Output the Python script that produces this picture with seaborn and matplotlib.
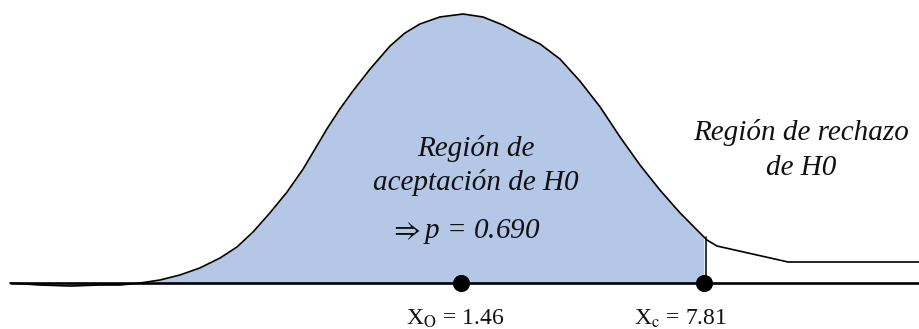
import numpy as np
import pandas as pd
import matplotlib
matplotlib.use("Agg")
import matplotlib.pyplot as plt
import seaborn as sns

# traced curve (x in statistic units, y = height in arbitrary units)
curve_x = [-10.32, -9.54, -8.75, -7.97, -7.45, -6.92, -6.40, -5.88, -5.36, -4.83,
           -4.39, -3.97, -3.53, -3.08, -2.66, -2.35, -2.04, -1.70, -1.36, -0.91,
           -0.39, 0.00, 0.39, 0.91, 1.52, 2.04, 2.56, 3.00, 3.53, 4.05,
           4.57, 5.10, 5.62, 6.14, 6.66, 7.19, 7.63, 7.89, 8.15, 10.01, 13.43]
curve_y = [0, -2, -3, -2, -2, 0, 3, 8, 15, 25,
           36, 51, 70, 91, 114, 134, 154, 174, 192, 214,
           237, 250, 259, 266, 269, 266, 258, 249, 239, 224,
           202, 176, 146, 118, 93, 70, 53, 43, 37, 21, 21]

x_obs = 1.46
x_crit = 7.81
p_value = 0.690
point_x = [x_obs, x_crit]
point_labels = ["X$_\\mathrm{O}$ = 1.46", "X$_\\mathrm{c}$ = 7.81"]

sns.set_theme(style="white")
plt.rcParams["font.family"] = ["Liberation Serif", "DejaVu Serif"]
plt.rcParams["mathtext.fontset"] = "stix"

fig = plt.figure(figsize=(9.19, 3.29), dpi=100)
ax = fig.add_axes([0, 0, 1, 1])

df = pd.DataFrame({"x": curve_x, "y": curve_y})
cx = np.array(curve_x, dtype=float)
cy = np.array(curve_y, dtype=float)
y_crit = np.interp(x_crit, cx, cy)
mask = cx < x_crit
fx = np.append(cx[mask], x_crit)
fy = np.append(cy[mask], y_crit)
ax.fill_between(fx, fy, 0, color="#B4C7E7", linewidth=0)

sns.lineplot(data=df, x="x", y="y", ax=ax, color="black", lw=1.2, sort=False, estimator=None)
ax.plot([curve_x[0], 13.6], [0, 0], color="black", lw=1.9, solid_capstyle="butt")
ax.plot([x_crit + 0.05, x_crit + 0.05], [0, y_crit], color="black", lw=1.1)

sns.scatterplot(x=point_x, y=[0, 0], ax=ax, color="black", s=130, edgecolor="black", zorder=5)

ital = dict(style="italic", fontsize=21, ha="center", va="center", color="#111111")
ax.text(1.86, 135, "Región de", **ital)
ax.text(1.86, 100, "aceptación de H0", **ital)
ax.text(1.55, 52, f"$\\Rightarrow$p = {p_value:.3f}", **ital)
ax.text(10.35, 150, "Región de rechazo", **ital)
ax.text(10.35, 115, "de H0", **ital)

ax.text(1.31, -36, point_labels[0], fontsize=17, ha="center", va="center", color="#111111")
ax.text(7.21, -36, point_labels[1], fontsize=17, ha="center", va="center", color="#111111")

ax.set_xlim(-10.58, 13.43)
ax.set_ylim(-46, 283)
ax.axis("off")
fig.savefig("out.png", dpi=100)
